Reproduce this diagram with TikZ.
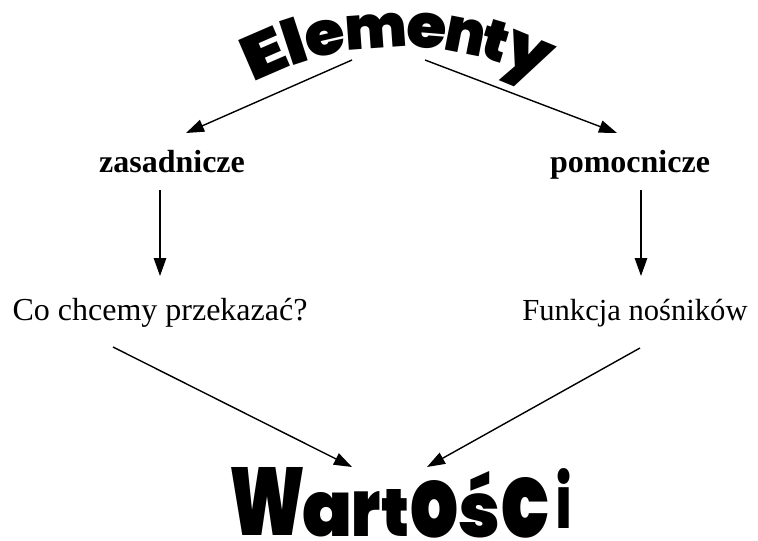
\documentclass[tikz,border=0pt]{standalone}
\usepackage{fontspec}
\setmainfont{Liberation Serif}
\newfontfamily\artfont{Poppins Black}
\usetikzlibrary{arrows.meta}
\begin{document}
\begin{tikzpicture}[x=1pt,y=-1pt,
  conn/.style={line width=1.4pt,-{Triangle[length=18pt,width=12.5pt]}},
  txt/.style={inner sep=0pt, anchor=base, font=\fontsize{32}{36}\selectfont},
  heading/.style={txt, font=\fontsize{32}{36}\selectfont\bfseries},
  glyph/.style={inner sep=0pt, anchor=base}]
\useasboundingbox (0,0) rectangle (758,541);

% arched title: each letter sits on a circle of radius 320 around (400,367)
\foreach \ch/\ang/\w/\h [count=\k] in
  {E/-23.4/44/44, l/-18/22/46, e/-12.8/40/35, m/-4.1/62/34,
   e/4.6/40/35, n/11.2/40/35, t/16.4/26/40, y/22.4/46/36}
  \node[glyph, rotate={0-(\ang)}] (el\k) at ({400+320*sin(\ang)},{367-320*cos(\ang)})
    {\resizebox{\w pt}{\h pt}{\artfont\ch}};

% bottom title: letters stretched individually
\foreach \ch/\x/\w/\h/\b [count=\k] in
  {W/267/76/68/535, a/328/50/44/536, r/366/29/45/536, t/395/28/47/536,
   o/434/48/57/537, ś/479/42/66/537, c/525/48/60/537, i/564/15/60/528}
  \node[glyph] (wa\k) at (\x,\b) {\resizebox{\w pt}{\h pt}{\artfont\ch}};

% labels
\node[heading] (zas) at (172,172) {zasadnicze};
\node[heading] (pom) at (630,172) {pomocnicze};
\node[txt] (co) at (160,320) {Co chcemy przekazać?};
\node[txt, font=\fontsize{30.6}{36}\selectfont] (fun) at (635,320) {Funkcja nośników};

% connector end points
\coordinate (elL) at (352,60);
\coordinate (elR) at (425,60);
\coordinate (zasTop) at (186,133);
\coordinate (pomTop) at (617,133);
\coordinate (zasDown) at (160,190);
\coordinate (coTop) at (160,276);
\coordinate (pomDown) at (641,190);
\coordinate (funTop) at (641,276);
\coordinate (coDown) at (113,347);
\coordinate (funDown) at (640,348);
\coordinate (waL) at (352,467);
\coordinate (waR) at (427,467);

\draw[conn] (elL) -- (zasTop);
\draw[conn] (elR) -- (pomTop);
\draw[conn] (zasDown) -- (coTop);
\draw[conn] (pomDown) -- (funTop);
\draw[conn] (coDown) -- (waL);
\draw[conn] (funDown) -- (waR);
\end{tikzpicture}
\end{document}
